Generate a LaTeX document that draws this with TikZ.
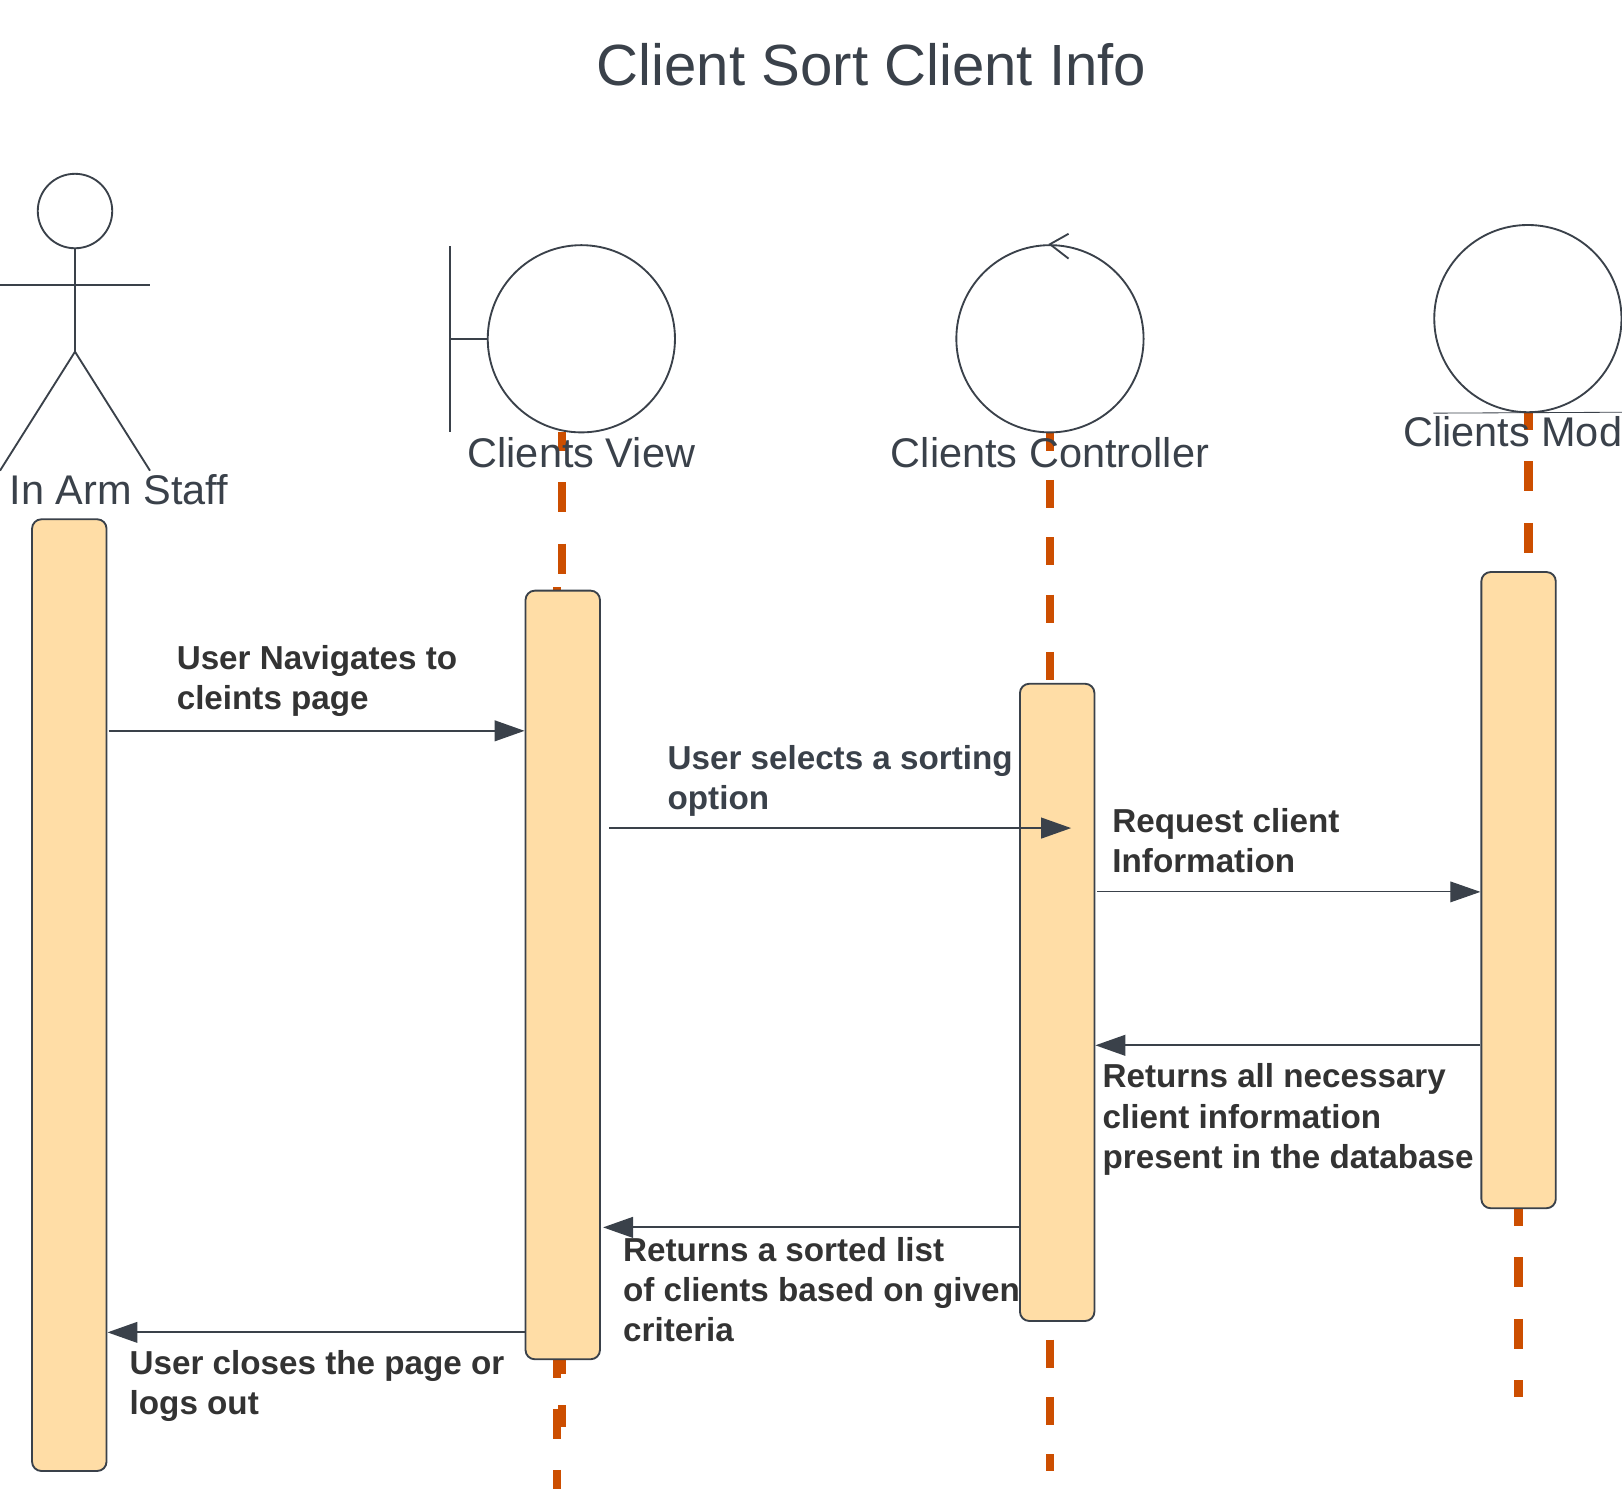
\documentclass[tikz,border=0pt]{standalone}
\usepackage{fontspec}
\setmainfont{Liberation Sans}
\usetikzlibrary{arrows.meta,calc}
\definecolor{slate}{HTML}{3A414A}
\definecolor{labelink}{HTML}{333333}
\definecolor{lifeorange}{HTML}{CC4E00}
\definecolor{boxfill}{HTML}{FFDDA6}
\tikzset{
  shape line/.style={draw=slate,line width=0.9pt},
  figure/.style={shape line,circle,inner sep=0pt,minimum size=90.5pt},
  lifebox/.style={draw=slate,line width=0.9pt,fill=boxfill,rounded corners=4.5pt,inner sep=0pt,minimum width=36pt},
  lifeline/.style={draw=lifeorange,line width=4pt},
  message/.style={draw=slate,line width=0.95pt,-{Triangle[length=14.5pt,width=10pt]}},
  thin message/.style={message,line width=0.5pt},
  headtext/.style={text=slate,inner sep=0pt,font=\fontsize{20.05}{24}\selectfont},
  titletext/.style={text=slate,inner sep=0pt,font=\fontsize{28.1}{33}\selectfont},
  msgtext/.style={text=labelink,inner sep=0pt,anchor=base west,align=left,font=\fontsize{16.05}{19.4}\selectfont\bfseries},
}
\begin{document}
\begin{tikzpicture}[x=0.5pt,y=-0.5pt]
\useasboundingbox (0,0) rectangle (1568,1439);
% lifelines
\draw[lifeline,dash pattern=on 14.5pt off 15.25pt,dash phase=5.75pt] (543.5,418) -- (543.5,1379);
\draw[lifeline] (538.5,567.5) -- (538.5,572);
\draw[lifeline,dash pattern=on 14.5pt off 15pt] (538.5,1303) -- (538.5,1439);
\draw[lifeline,dash pattern=on 13.5pt off 14.2pt,dash phase=4.7pt] (1015,418) -- (1015,1422);
\draw[lifeline,dash pattern=on 14.5pt off 15.25pt,dash phase=6.25pt] (1477.5,399) -- (1477.5,535);
\draw[lifeline,dash pattern=on 14.5pt off 15.25pt,dash phase=6.5pt] (1468,1169) -- (1468,1350);
% actor
\node[figure,minimum size=36pt] (head) at (72.5,204) {};
\coordinate (hip) at (72.5,340);
\coordinate (armL) at (0,275.5);
\coordinate (armR) at (145,275.5);
\coordinate (footL) at (0,455);
\coordinate (footR) at (145,455);
\draw[shape line] (head.south) -- (hip);
\draw[shape line] (armL) -- (armR);
\draw[shape line] (footL) -- (hip) -- (footR);
% boundary
\node[figure] (view) at (562,327.5) {};
\coordinate (barT) at (435,238);
\coordinate (barB) at (435,418);
\draw[shape line] (barT) -- (barB);
\draw[shape line] (barT |- view.west) -- (view.west);
% control
\node[figure] (ctrl) at (1015,327.5) {};
\coordinate (tipU) at (1033,226);
\coordinate (tipD) at (1033,250);
\draw[shape line] (tipU) -- (ctrl.north) -- (tipD);
% entity
\node[figure] (model) at (1477,308) {};
\coordinate (entR) at (1568,398.5);
\draw[draw=slate,line width=0.4pt] (model.west |- model.south) -- (entR);
% headings
\node[titletext] (title) at (842.5,63) {Client Sort Client Info};
\node[headtext,anchor=base] (staffl) at (115,487.5) {In Arm Staff};
\node[headtext,anchor=base] (viewl) at (562,451.5) {Clients View};
\node[headtext,anchor=base] (ctrll) at (1015,451.5) {Clients Controller};
\node[headtext,anchor=base west] (modell) at (1356,431.5) {Clients Mod};
% activation boxes
\node[lifebox,minimum height=460pt] (b1) at (67,962) {};
\node[lifebox,minimum height=371.5pt] (b2) at (544,942.5) {};
\node[lifebox,minimum height=308pt] (b3) at (1022,969) {};
\node[lifebox,minimum height=307.5pt] (b4) at (1468,860.5) {};
% messages
\coordinate (m1) at (0,706.5);
\coordinate (m2a) at (589,800.5);
\coordinate (m2b) at (1035.5,800.5);
\coordinate (m3) at (0,862.2);
\coordinate (m4) at (0,1010.5);
\coordinate (m5) at (0,1186.5);
\coordinate (m5b) at (583,1186.5);
\coordinate (m6) at (0,1288);
\draw[message,shorten <=0.5pt] (b1.east |- m1) -- (b2.west |- m1);
\draw[message] (m2a) -- (m2b);
\draw[thin message,shorten <=1pt] (b3.east |- m3) -- (b4.west |- m3);
\draw[message] (b4.west |- m4) -- (b3.east |- m4);
\draw[message] (b3.west |- m5) -- (m5b);
\draw[message] (b2.west |- m6) -- (b1.east |- m6);
% message labels (anchored on the baseline of the last line)
\node[msgtext] (l1) at (170.5,686.3) {User Navigates to\\cleints page};
\node[msgtext,text=slate] (l2) at (645,782.3) {User selects a sorting\\option};
\node[msgtext] (l3) at (1075,843.5) {Request client\\Information};
\node[msgtext] (l4) at (1065.5,1129.3) {Returns all necessary\\client information\\present in the database};
\node[msgtext] (l5) at (602,1297.3) {Returns a sorted list\\of clients based on given\\criteria};
\node[msgtext] (l6) at (125,1367.3) {User closes the page or\\logs out};
\end{tikzpicture}
\end{document}
